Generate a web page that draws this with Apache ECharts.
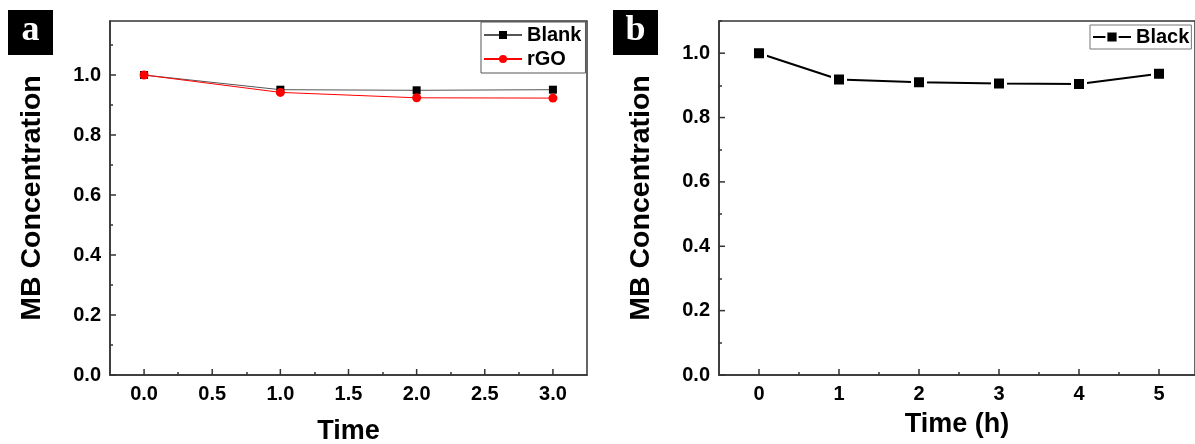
<!DOCTYPE html>
<html>
<head>
<meta charset="utf-8">
<script src="https://cdn.jsdelivr.net/npm/echarts@6/dist/echarts.min.js"></script>
<style>
  html, body { margin: 0; padding: 0; background: #fff; }
  #main { width: 1195px; height: 444px; }
</style>
</head>
<body>
<div id="main"></div>
<script>
// 数据
const timeA = [0, 1, 2, 3];
const blank = [1.0, 0.951, 0.949, 0.951];
const rgo = [1.0, 0.942, 0.924, 0.923];
const timeB = [0, 1, 2, 3, 4, 5];
const black = [1.0, 0.918, 0.910, 0.906, 0.904, 0.936];

// 刻度
const xTicksA = [0, 0.5, 1, 1.5, 2, 2.5, 3];
const xMinorA = [0.25, 0.75, 1.25, 1.75, 2.25, 2.75];
const xTicksB = [0, 1, 2, 3, 4, 5];
const xMinorB = [0.5, 1.5, 2.5, 3.5, 4.5];
const yTicks = [0, 0.2, 0.4, 0.6, 0.8, 1.0];
const yMinor = [0.1, 0.3, 0.5, 0.7, 0.9, 1.1];

const FONT = '"Liberation Sans", Arial, sans-serif';
const AX = '#333';

const pairs = (xs, ys) => xs.map((x, i) => [x, ys[i]]);

// 主轴：标签 + 轴线（主刻度后面用 graphic 画）
function mainX(grid, min, max, ticks, name, gap, fmt) {
	return {
		type: 'value', gridIndex: grid, min: min, max: max,
		name: name, nameLocation: 'middle', nameGap: gap,
		nameTextStyle: { fontFamily: FONT, fontWeight: 'bold', fontSize: 27, color: '#000' },
		axisLine: { show: true, onZero: false, lineStyle: { color: AX, width: 1.5 } },
		axisTick: { show: false },
		axisLabel: { customValues: ticks, margin: 9, formatter: fmt,
			fontFamily: FONT, fontWeight: 'bold', fontSize: 20, color: '#000' },
		splitLine: { show: false }
	};
}
// 次刻度轴（叠在同一区域）
function minorX(grid, min, max, ticks) {
	return {
		type: 'value', gridIndex: grid, min: min, max: max,
		axisLine: { show: false, onZero: false },
		axisTick: { show: true, inside: true, length: 3, customValues: ticks, lineStyle: { color: AX, width: 1.5 } },
		axisLabel: { show: false },
		splitLine: { show: false }
	};
}
function mainY(grid, max) {
	return {
		type: 'value', gridIndex: grid, min: 0, max: max,
		name: 'MB Concentration', nameLocation: 'middle', nameGap: 63,
		nameTextStyle: { fontFamily: FONT, fontWeight: 'bold', fontSize: 28.5, color: '#000' },
		axisLine: { show: true, onZero: false, lineStyle: { color: AX, width: 1.5 } },
		axisTick: { show: false },
		axisLabel: { customValues: yTicks, margin: 9, formatter: v => v.toFixed(1),
			fontFamily: FONT, fontWeight: 'bold', fontSize: 20, color: '#000' },
		splitLine: { show: false }
	};
}
function minorY(grid, max) {
	return {
		type: 'value', gridIndex: grid, min: 0, max: max,
		axisLine: { show: false, onZero: false },
		axisTick: { show: true, inside: true, length: 3, customValues: yMinor, lineStyle: { color: AX, width: 1.5 } },
		axisLabel: { show: false },
		splitLine: { show: false }
	};
}

function letter(x, txt) {
	return {
		type: 'group', left: x, top: 10,
		children: [
			{ type: 'rect', shape: { x: 0, y: 0, width: 45, height: 45 }, style: { fill: '#000' } },
			{ type: 'text', x: 22.5, y: 21, style: { text: txt, fill: '#fff', align: 'center', verticalAlign: 'middle',
				font: 'bold 36px "Liberation Serif", "Times New Roman", serif' } }
		]
	};
}

const boxA = { left: 110, top: 21, width: 477, height: 354, outerBoundsMode: 'none' };
const boxB = { left: 719, top: 21, width: 476, height: 354, outerBoundsMode: 'none' };

const myChart = echarts.init(document.getElementById('main'));
const letters = [letter(8, 'a'), letter(613, 'b')];
const option = {
	backgroundColor: '#fff',
	animation: false,
	graphic: letters,
	grid: [
		Object.assign({ show: true, borderColor: AX, borderWidth: 1.5 }, boxA),
		Object.assign({}, boxA),
		Object.assign({ show: true, borderColor: AX, borderWidth: 1.5 }, boxB),
		Object.assign({}, boxB)
	],
	xAxis: [
		mainX(0, -0.25, 3.25, xTicksA, 'Time', 43, v => v.toFixed(1)),
		minorX(1, -0.25, 3.25, xMinorA),
		mainX(2, -0.5, 5.45, xTicksB, 'Time (h)', 36, v => String(v)),
		minorX(3, -0.5, 5.45, xMinorB)
	],
	yAxis: [mainY(0, 1.18), minorY(1, 1.18), mainY(2, 1.1), minorY(3, 1.1)],
	legend: [
		{
			data: ['Blank', 'rGO'], orient: 'vertical', left: 481, top: 22,
			itemWidth: 38, itemHeight: 10, itemGap: 4, padding: [3, 4, 4, 2],
			borderColor: '#555', borderWidth: 1, borderRadius: 0,
			textStyle: { fontFamily: FONT, fontWeight: 'bold', fontSize: 20, color: '#000' }
		},
		{
			data: ['Black'], left: 1090, top: 25,
			itemWidth: 38, itemHeight: 14, padding: [2, 2, 2, 2],
			borderColor: '#777', borderWidth: 1, borderRadius: 0,
			textStyle: { fontFamily: FONT, fontWeight: 'bold', fontSize: 20, color: '#000' }
		}
	],
	series: [
		{
			name: 'Blank', type: 'line', xAxisIndex: 0, yAxisIndex: 0,
			data: pairs(timeA, blank),
			symbol: 'rect', symbolSize: 8,
			lineStyle: { color: '#555', width: 1 },
			itemStyle: { color: '#000' }
		},
		{
			name: 'rGO', type: 'line', xAxisIndex: 0, yAxisIndex: 0,
			data: pairs(timeA, rgo),
			symbol: 'circle', symbolSize: 9,
			lineStyle: { color: '#f00', width: 1 },
			itemStyle: { color: '#f00' }
		},
		{
			name: 'Black', type: 'line', xAxisIndex: 2, yAxisIndex: 2,
			data: pairs(timeB, black),
			symbol: 'rect', symbolSize: 13,
			lineStyle: { color: '#000', width: 2 },
			itemStyle: { color: '#000', borderColor: '#fff', borderWidth: 3 }
		}
	]
};
myChart.setOption(option);

// 主刻度：用图表自己的坐标换算得到像素位置
function majorTicks(gi, xMin, xs, ys, len) {
	const els = [];
	xs.forEach(v => {
		const p = myChart.convertToPixel({ gridIndex: gi }, [v, 0]);
		els.push({ type: 'line', shape: { x1: p[0], y1: p[1], x2: p[0], y2: p[1] - len },
			style: { stroke: AX, lineWidth: 1.5 }, z: 10 });
	});
	ys.forEach(v => {
		const p = myChart.convertToPixel({ gridIndex: gi }, [xMin, v]);
		els.push({ type: 'line', shape: { x1: p[0], y1: p[1], x2: p[0] + len, y2: p[1] },
			style: { stroke: AX, lineWidth: 1.5 }, z: 10 });
	});
	return els;
}
myChart.setOption({
	graphic: letters.concat(majorTicks(0, -0.25, xTicksA, yTicks, 6), majorTicks(2, -0.5, xTicksB, yTicks, 6))
});
</script>
</body>
</html>
